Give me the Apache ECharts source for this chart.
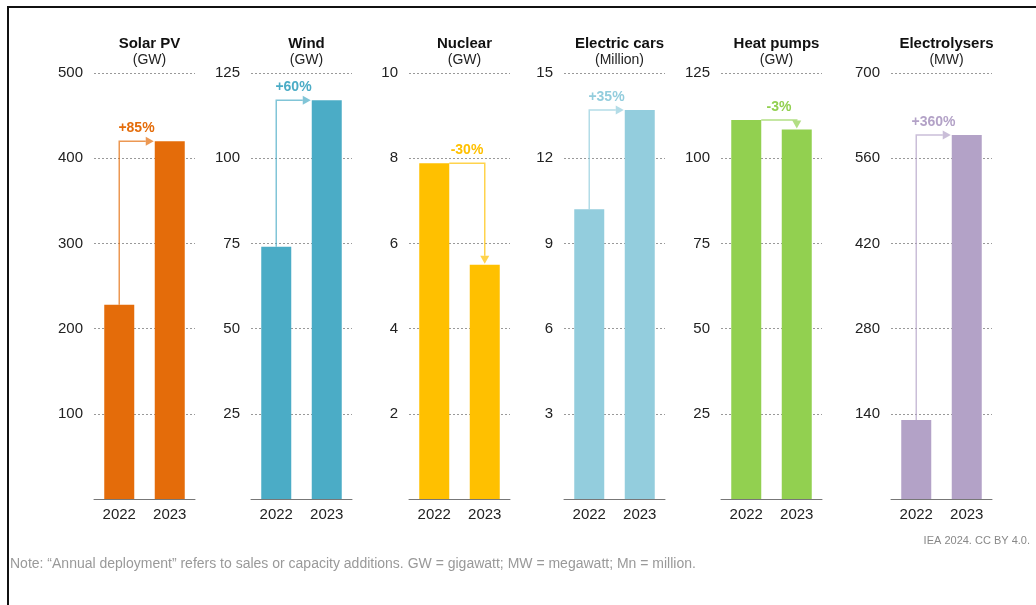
<!DOCTYPE html>
<html>
<head>
<meta charset="utf-8">
<script src="https://cdn.jsdelivr.net/npm/echarts@6/dist/echarts.min.js"></script>
<style>
  html, body { margin: 0; padding: 0; background: #fff; }
  #chart { width: 1036px; height: 605px; }
</style>
</head>
<body>
<div id="chart"></div>
<script>
// Annual deployment of clean technologies, 2022 vs 2023
const panelTitles = ['Solar PV', 'Wind', 'Nuclear', 'Electric cars', 'Heat pumps', 'Electrolysers'];
const panelUnits = ['(GW)', '(GW)', '(GW)', '(Million)', '(GW)', '(MW)'];
const years = ['2022', '2023'];
const values2022 = [228, 74, 7.88, 10.2, 111.2, 130];
const values2023 = [420, 117, 5.5, 13.7, 108.4, 598];
const changeLabels = ['+85%', '+60%', '-30%', '+35%', '-3%', '+360%'];
const axisMax = [500, 125, 10, 15, 125, 700];
const axisStep = [100, 25, 2, 3, 25, 140];
const barColors = ['#E46C0A', '#4BACC6', '#FFC000', '#93CDDD', '#92D050', '#B3A2C7'];
const noteText = 'Note: \u201cAnnual deployment\u201d refers to sales or capacity additions. GW = gigawatt; MW = megawatt; Mn = million.';
const sourceText = 'IEA 2024. CC BY 4.0.';

const FONT = '"Liberation Sans", Arial, sans-serif';
const gridLefts = [94, 251, 409, 564, 721, 891];
const gridWidth = 101;
const gridTop = 73;
const gridHeight = 426;
const BAR_W = 30;

function fade(hex, a) {
  const n = parseInt(hex.slice(1), 16);
  return 'rgba(' + (n >> 16) + ',' + ((n >> 8) & 255) + ',' + (n & 255) + ',' + a + ')';
}

// Elbow arrow from the 2022 bar to the 2023 bar, with the change label above it
function arrowRenderer(color, label) {
  const lineColor = fade(color, 0.7);
  return function (params, api) {
    const v0 = api.value(1), v1 = api.value(2);
    const a = api.coord([0, v0]);
    const b = api.coord([1, v1]);
    const half = BAR_W / 2, head = 8, hw = 4.5;
    let pts, tri, tx, ty;
    if (v1 >= v0) {
      const tipX = b[0] - half - 1;
      pts = [[a[0], a[1]], [a[0], b[1]], [tipX - head, b[1]]];
      tri = [[tipX - head, b[1] - hw], [tipX, b[1]], [tipX - head, b[1] + hw]];
      tx = (a[0] + tipX) / 2; ty = b[1] - 6;
    } else {
      const tipY = b[1] - 1;
      pts = [[a[0] + half, a[1]], [b[0], a[1]], [b[0], tipY - head]];
      tri = [[b[0] - hw, tipY - head], [b[0], tipY], [b[0] + hw, tipY - head]];
      tx = (a[0] + half + b[0]) / 2; ty = a[1] - 6;
    }
    return {
      type: 'group',
      children: [
        { type: 'polyline', shape: { points: pts }, style: { stroke: lineColor, lineWidth: 1.5, fill: null } },
        { type: 'polygon', shape: { points: tri }, style: { fill: lineColor } },
        { type: 'text', style: { text: label, x: tx, y: ty, align: 'center', verticalAlign: 'bottom',
            fill: color, font: 'bold 14px ' + FONT } }
      ]
    };
  };
}

const grids = [], xAxes = [], yAxes = [], series = [], titles = [];
panelTitles.forEach((name, i) => {
  grids.push({ left: gridLefts[i], top: gridTop, width: gridWidth, height: gridHeight, containLabel: false });
  xAxes.push({
    type: 'category', gridIndex: i, data: years,
    axisLine: { lineStyle: { color: '#777', width: 1 } },
    axisTick: { show: false },
    axisLabel: { color: '#222', fontSize: 15, fontFamily: FONT, margin: 8 }
  });
  yAxes.push({
    type: 'value', gridIndex: i, min: 0, max: axisMax[i], interval: axisStep[i],
    axisLine: { show: false }, axisTick: { show: false },
    axisLabel: { color: '#222', fontSize: 15, fontFamily: FONT, margin: 11, showMinLabel: false },
    splitLine: { lineStyle: { color: '#999', type: [2, 2], width: 1 } }
  });
  series.push({
    type: 'bar', xAxisIndex: i, yAxisIndex: i, barWidth: BAR_W,
    data: [values2022[i], values2023[i]],
    itemStyle: { color: barColors[i] }, silent: true, z: 2
  });
  series.push({
    type: 'custom', xAxisIndex: i, yAxisIndex: i, clip: false, silent: true, z: 3,
    data: [[0, values2022[i], values2023[i]]],
    renderItem: arrowRenderer(barColors[i], changeLabels[i])
  });
  titles.push({
    text: name, subtext: panelUnits[i],
    left: gridLefts[i] + gridWidth / 2, top: 31, textAlign: 'center', itemGap: 2,
    textStyle: { fontSize: 15, fontWeight: 'bold', color: '#111', fontFamily: FONT },
    subtextStyle: { fontSize: 14, color: '#222', fontFamily: FONT }
  });
});

const chart = echarts.init(document.getElementById('chart'));
chart.setOption({
  animation: false,
  backgroundColor: '#fff',
  title: titles,
  grid: grids,
  xAxis: xAxes,
  yAxis: yAxes,
  series: series,
  graphic: [
    { type: 'polyline', shape: { points: [[8, 605], [8, 7], [1036, 7]] },
      style: { stroke: '#111', lineWidth: 2, fill: null } },
    { type: 'text', left: 10, top: 557,
      style: { text: noteText, fill: '#999', font: '14px ' + FONT } },
    { type: 'text', right: 6, top: 535,
      style: { text: sourceText, fill: '#888', font: '11px ' + FONT } }
  ]
});
</script>
</body>
</html>
